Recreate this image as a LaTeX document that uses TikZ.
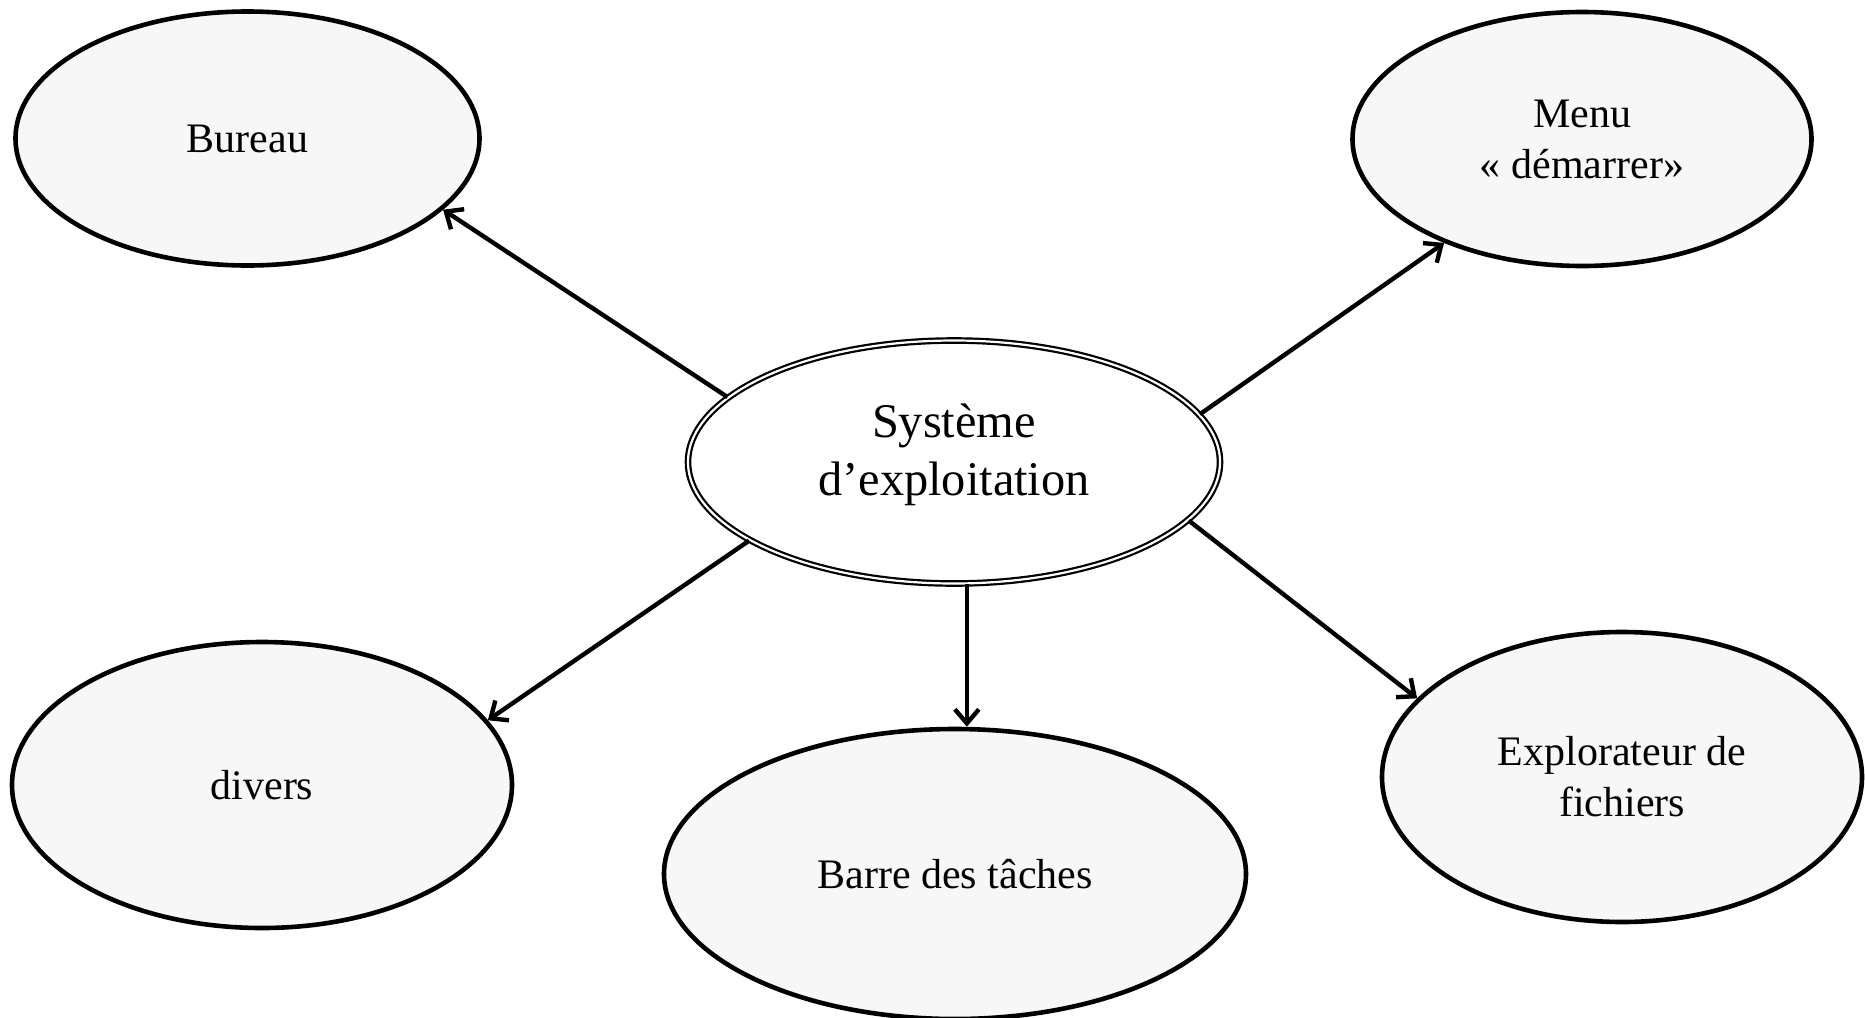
\documentclass[tikz,border=0pt]{standalone}
\usepackage{fontspec}
\setmainfont{Liberation Serif}
\usetikzlibrary{shapes.geometric,arrows.meta}
\definecolor{ellfill}{HTML}{F7F7F7}
\begin{document}
\begin{tikzpicture}[x=0.5pt,y=-0.5pt,
  leaf/.style={ellipse,draw=black,line width=2.3pt,fill=ellfill,inner sep=0pt,align=center,font=\fontsize{21}{25.5}\selectfont},
  hub/.style={ellipse,draw=black,line width=1.1pt,double=white,double distance=1.1pt,inner sep=0pt},
  hubtext/.style={align=center,font=\fontsize{24.2}{29}\selectfont},
  link/.style={line width=2.2pt,-{Straight Barb[length=7pt,width=12pt]}}]
\useasboundingbox (0,0) rectangle (1865,1018);
\node[leaf,minimum width=232pt,minimum height=127pt] (bureau) at (247.5,138.5) {Bureau};
\node[leaf,minimum width=229.5pt,minimum height=127pt] (menu) at (1582,139) {Menu\\« démarrer»};
\node[leaf,minimum width=250pt,minimum height=143pt] (divers) at (262,785) {divers};
\node[leaf,minimum width=291pt,minimum height=145pt] (barre) at (955,874) {Barre des tâches};
\node[leaf,minimum width=240pt,minimum height=145pt] (explo) at (1622,777) {Explorateur de\\fichiers};
\node[hub,minimum width=266pt,minimum height=121.5pt] (os) at (954,462) {};
\node[hubtext] (ostext) at (954,455) {Système\\d’exploitation};
\draw[link] (os.164) -- (bureau.340);
\draw[link] (os.11) -- (menu.217.6);
\draw[link] (os.201) -- (divers.16.5);
\draw[link] (os.276) -- (os.276 |- barre.north);
\draw[link] (os.346) -- (explo.159.4);
\end{tikzpicture}
\end{document}
